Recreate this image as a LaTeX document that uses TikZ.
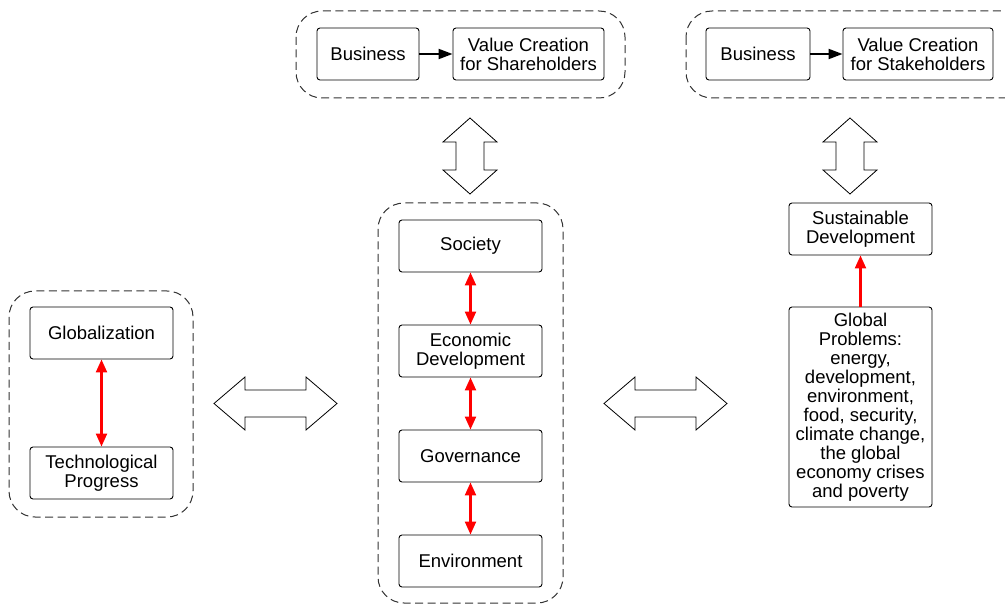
\documentclass[tikz,border=0pt]{standalone}
\usepackage{fontspec}
\setmainfont{Liberation Sans}
\usetikzlibrary{positioning,arrows.meta}

\tikzset{
  every block/.style={draw, rounded corners=3pt, line width=0.9pt, align=center,
    minimum width=143pt, minimum height=52pt, inner sep=2pt,
    font=\fontsize{18.5}{19}\selectfont},
  group/.style={draw=black!80, dash pattern=on 8pt off 4.5pt, line width=1pt, rounded corners=26pt},
  link/.style={red, line width=2.2pt, {Triangle[width=11pt,length=13pt]}-{Triangle[width=11pt,length=13pt]}},
  push/.style={black, line width=2pt, -{Triangle[width=10pt,length=14pt]}},
  bigarrow/.style={draw, line width=0.8pt, fill=white}
}

\begin{document}
\begin{tikzpicture}[x=1pt, y=-1pt]
\useasboundingbox (0,0) rectangle (1005,604);

% dashed groups
\draw [group] (296,11) rectangle (625,98);
\draw [group] (686,11) rectangle (1030,98);
\draw [group] (378,203) rectangle (563,603);
\draw [group] (9,291) rectangle (193,517);

% business rows
\node [every block/.try, minimum width=102pt] (biz-share) at (368,54) {Business};
\node [every block/.try, minimum width=151pt] (value-share) at (528.5,54) {Value Creation\\for Shareholders};
\node [every block/.try, minimum width=104pt] (biz-stake) at (758,54) {Business};
\node [every block/.try, minimum width=150pt] (value-stake) at (918,54) {Value Creation\\for Stakeholders};

\draw [push] (biz-share) -- (value-share);
\draw [push] (biz-stake) -- (value-stake);

% middle column
\foreach \m/\l [count=\i] in {society/Society, economy/Economic\\Development, governance/Governance, environment/Environment}
  \node [every block/.try] (\m) at (470.5,246-105+105*\i) {\l};

\draw [link] (society) -- (economy);
\draw [link] (economy) -- (governance);
\draw [link] (governance) -- (environment);

% left column
\node [every block/.try] (globalization) at (101.5,333) {Globalization};
\node [every block/.try] (technology) at (101.5,473) {Technological\\Progress};
\draw [link] (globalization) -- (technology);

% right column
\node [every block/.try] (sustainable) at (860.5,229) {Sustainable\\Development};
\node [every block/.try, minimum height=200pt] (problems) at (860.5,407)
  {Global\\Problems:\\energy,\\development,\\environment,\\food, security,\\climate change,\\the global\\economy crises\\and poverty};
\draw [red, line width=2.2pt, -{Triangle[width=11pt,length=13pt]}] (problems) -- (sustainable);

% block double arrows
\foreach \cx/\cy/\r/\L/\H/\W/\S in {470/156/90/38/24/27/14, 850/156/90/38/24/27/14, 275.5/403.5/0/61.5/31/26.5/13.5, 665.5/403.5/0/61.5/31/26.5/13.5}
  \draw [bigarrow, shift={(\cx,\cy)}, rotate=\r]
    (-\L,0) -- (-\L+\H,\W) -- (-\L+\H,\S) -- (\L-\H,\S) -- (\L-\H,\W) -- (\L,0)
    -- (\L-\H,-\W) -- (\L-\H,-\S) -- (-\L+\H,-\S) -- (-\L+\H,-\W) -- cycle;

\end{tikzpicture}
\end{document}
